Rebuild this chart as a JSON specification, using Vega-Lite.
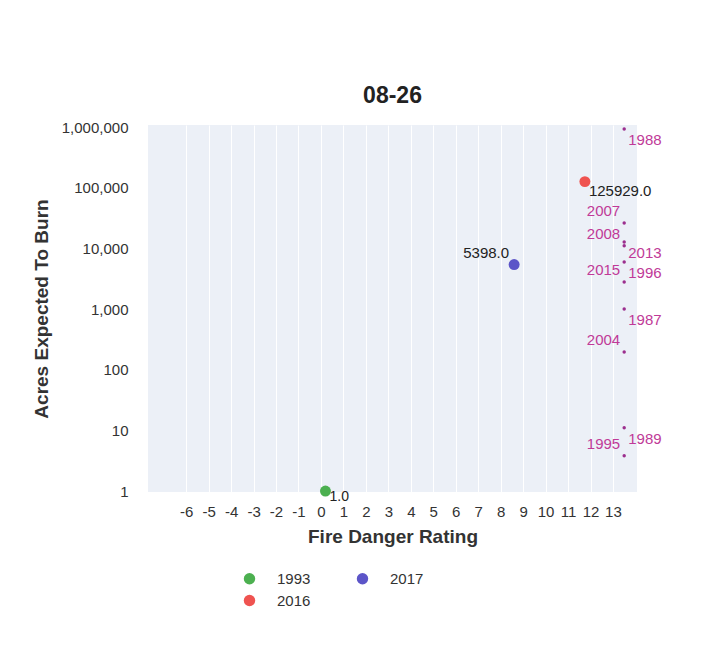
{
  "$schema": "https://vega.github.io/schema/vega-lite/v6.json",
  "width": 489,
  "height": 367,
  "autosize": {"type": "none"},
  "padding": {"left": 148, "top": 125, "right": 64, "bottom": 168},
  "background": "white",
  "title": {"text": "08-26", "fontSize": 23, "font": "Liberation Sans", "fontWeight": "bold", "color": "#222222", "offset": 12, "anchor": "middle"},
  "config": {
    "font": "Liberation Sans",
    "view": {"fill": "#ecf0f7", "stroke": null},
    "axis": {"grid": true, "gridColor": "#ffffff", "gridWidth": 1, "domain": false, "ticks": false, "labelFont": "Liberation Sans", "labelFontSize": 15, "labelColor": "#333333", "titleFont": "Liberation Sans", "titleFontSize": 19, "titleFontWeight": "bold", "titleColor": "#333333"}
  },
  "datasets": {
    "main": [
      {"year": "1993", "fdr": 0.2, "acres": 1.0},
      {"year": "2016", "fdr": 11.75, "acres": 125929.0},
      {"year": "2017", "fdr": 8.6, "acres": 5398.0}
    ],
    "others": [
      {"year": "1988", "fdr": 13.5, "acres": 927000},
      {"year": "2007", "fdr": 13.5, "acres": 26200},
      {"year": "2013", "fdr": 13.5, "acres": 12700},
      {"year": "2008", "fdr": 13.5, "acres": 11000},
      {"year": "1996", "fdr": 13.5, "acres": 5970},
      {"year": "2015", "fdr": 13.5, "acres": 2790},
      {"year": "1987", "fdr": 13.5, "acres": 1000},
      {"year": "2004", "fdr": 13.5, "acres": 196},
      {"year": "1989", "fdr": 13.5, "acres": 11},
      {"year": "1995", "fdr": 13.5, "acres": 3.8}
    ]
  },
  "encoding": {
    "x": {"field": "fdr", "type": "quantitative", "title": "Fire Danger Rating",
      "scale": {"domain": [-7.7, 14.07], "nice": false, "zero": false},
      "axis": {"values": [-6,-5,-4,-3,-2,-1,0,1,2,3,4,5,6,7,8,9,10,11,12,13], "labelExpr": "'' + datum.value", "labelPadding": 12, "titlePadding": 8, "labelFlush": false}},
    "y": {"field": "acres", "type": "quantitative", "title": "Acres Expected To Burn",
      "scale": {"type": "log", "domain": [0.963, 1080000], "nice": false},
      "axis": {"values": [1,10,100,1000,10000,100000,1000000], "format": ",d", "labelPadding": 20, "titlePadding": 10, "labelFlush": false, "grid": false}}
  },
  "layer": [
    {
      "data": {"name": "others"},
      "mark": {"type": "point", "filled": true, "size": 12, "color": "#9c2f8e", "opacity": 1},
      "encoding": {}
    },
    {
      "data": {"name": "others"},
      "transform": [{"filter": {"field": "year", "oneOf": ["1988", "2013", "1996", "1987", "1989"]}}],
      "mark": {"type": "text", "align": "left", "baseline": "top", "dx": 4, "dy": 4, "fontSize": 15, "color": "#c03a98"},
      "encoding": {"text": {"field": "year"}}
    },
    {
      "data": {"name": "others"},
      "transform": [{"filter": {"field": "year", "oneOf": ["2007", "2008", "2015", "2004", "1995"]}}],
      "mark": {"type": "text", "align": "right", "baseline": "bottom", "dx": -4, "dy": -4, "fontSize": 15, "color": "#c03a98"},
      "encoding": {"text": {"field": "year"}}
    },
    {
      "data": {"name": "main"},
      "mark": {"type": "point", "filled": true, "size": 120, "opacity": 1},
      "encoding": {
        "color": {"field": "year", "type": "nominal", "title": null,
          "scale": {"domain": ["1993", "2017", "2016"], "range": ["#4cb050", "#5c55c8", "#ef5350"]},
          "legend": {"orient": "none", "legendX": 94, "legendY": 446, "direction": "horizontal", "columns": 2, "symbolType": "circle", "symbolSize": 130, "labelFontSize": 15, "labelColor": "#333333", "labelOffset": 20, "columnPadding": 44, "rowPadding": 6}}
      }
    },
    {
      "data": {"name": "main"},
      "transform": [{"filter": {"field": "year", "equal": "2016"}}],
      "mark": {"type": "text", "align": "left", "baseline": "top", "dx": 4, "dy": 2, "fontSize": 15, "color": "#222222"},
      "encoding": {"text": {"field": "acres", "type": "quantitative", "format": ".1f"}}
    },
    {
      "data": {"name": "main"},
      "transform": [{"filter": {"field": "year", "equal": "1993"}}],
      "mark": {"type": "text", "align": "left", "baseline": "top", "dx": 4, "dy": -1, "fontSize": 14, "color": "#222222"},
      "encoding": {"text": {"field": "acres", "type": "quantitative", "format": ".1f"}}
    },
    {
      "data": {"name": "main"},
      "transform": [{"filter": {"field": "year", "equal": "2017"}}],
      "mark": {"type": "text", "align": "right", "baseline": "bottom", "dx": -5, "dy": -4, "fontSize": 15, "color": "#222222"},
      "encoding": {"text": {"field": "acres", "type": "quantitative", "format": ".1f"}}
    }
  ]
}
